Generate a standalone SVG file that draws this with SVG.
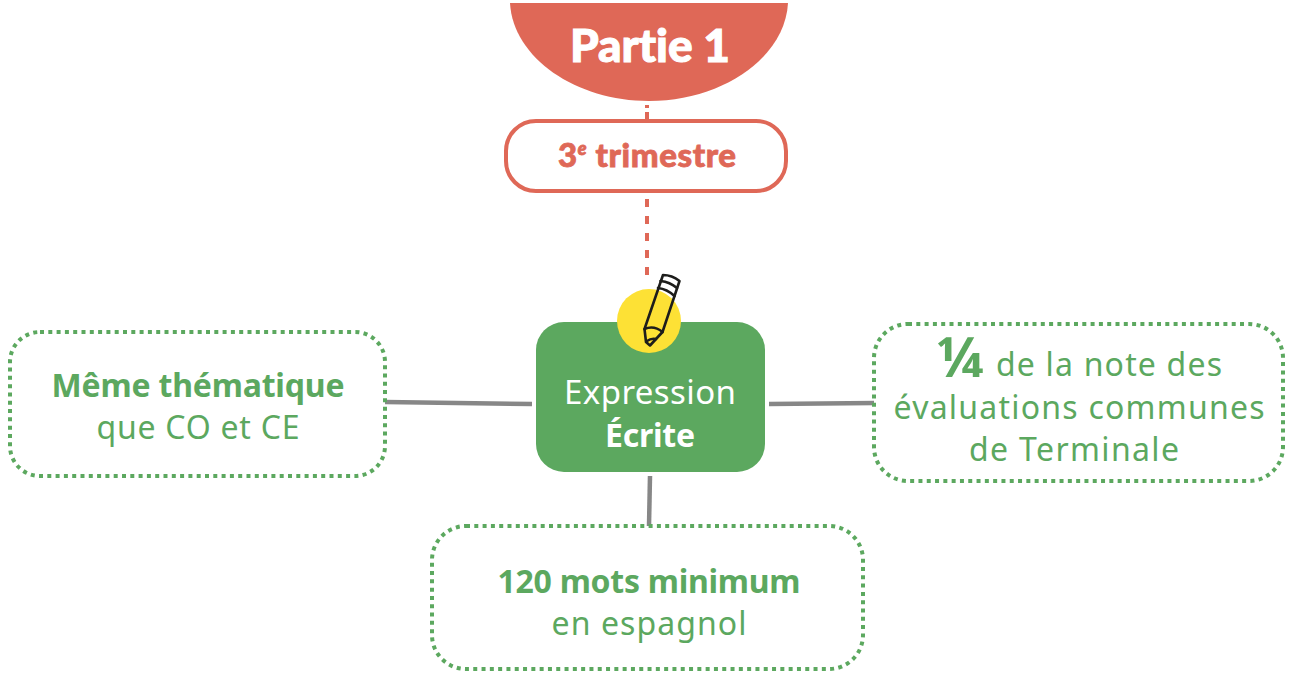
<svg xmlns="http://www.w3.org/2000/svg" width="1291" height="690" viewBox="0 0 1291 690">
<style>
text{font-family:"Noto Sans","Open Sans",sans-serif;text-anchor:middle;font-variant-ligatures:none}
.g{fill:#5ca85f;font-size:32px}
.b{font-weight:700}
.box{fill:#fff;stroke:#5ca85f;stroke-width:4;stroke-dasharray:4 4.3}
.link{stroke:#878787;stroke-width:4.500;fill:none}
.dash{stroke:#df6857;stroke-width:4;stroke-dasharray:8 9;fill:none}
.pen{fill:none;stroke:#1d1d1b;stroke-width:2.600;stroke-linejoin:round;stroke-linecap:round}
</style>
<g id="connectors">
<path class="dash" style="stroke-dasharray:none" d="M647 105V108M647 112V120"/>
<path class="dash" d="M647 199V275"/>
<path class="link" d="M385 402L532 404"/>
<path class="link" d="M769 404L875 403"/>
<path class="link" d="M650 476L649 526"/>
</g>
<g id="partie">
<path d="M510 3H788C785 58 722 101 649 101C576 101 513 58 510 3Z" fill="#df6857"/>
<text x="650" y="62" fill="#fff" stroke="#fff" stroke-width="1" style="font-family:Lato,sans-serif;font-weight:900" font-size="46" textLength="160">Partie 1</text>
</g>
<g id="trimestre">
<rect x="506" y="121" width="280" height="70" rx="30" fill="#fff" stroke="#df6857" stroke-width="4"/>
<text x="647" y="167" fill="#df6857" stroke="#df6857" stroke-width="0.800" style="font-family:Lato,sans-serif;font-weight:900" font-size="33" textLength="178">3<tspan font-size="18" font-style="italic" dy="-12">e</tspan><tspan dy="12"> trimestre</tspan></text>
</g>
<g id="expression">
<rect x="536" y="322" width="229" height="150" rx="28" fill="#5ca85f"/>
<circle cx="649" cy="321" r="32" fill="#fde135"/>
<g id="pencil" class="pen">
<path d="M663 275Q672 275 679.500 281L662.500 332Q654 325 644.500 329L663 275Z"/>
<path d="M660.500 281Q670 282 677 288M658 288Q667 289 674.500 296"/>
<path d="M644.500 329L646 342L650 345.500L662.500 332"/>
<path d="M647 341Q651 338 656 339"/>
</g>
<text x="650" y="404" fill="#fff" font-size="33" textLength="172">Expression</text>
<text x="650" y="447" fill="#fff" class="b" font-size="32" textLength="90">Écrite</text>
</g>
<g id="thematique">
<rect x="10" y="332" width="375" height="144" rx="30" class="box"/>
<text x="198" y="397" class="g b" textLength="293">Même thématique</text>
<text x="198" y="439" class="g" textLength="203">que CO et CE</text>
</g>
<g id="note">
<rect x="874" y="324" width="409" height="157" rx="34" class="box"/>
<text x="960" y="377" class="g b" style="font-size:56px">¼</text>
<text x="1109" y="376" class="g" textLength="226">de la note des</text>
<text x="1079" y="419" class="g" textLength="371">évaluations communes</text>
<text x="1074" y="461" class="g" textLength="210">de Terminale</text>
</g>
<g id="mots">
<rect x="432" y="526" width="431" height="143" rx="34" class="box"/>
<text x="649" y="593" class="g b" textLength="303">120 mots minimum</text>
<text x="649" y="635" class="g" textLength="195">en espagnol</text>
</g>
</svg>
